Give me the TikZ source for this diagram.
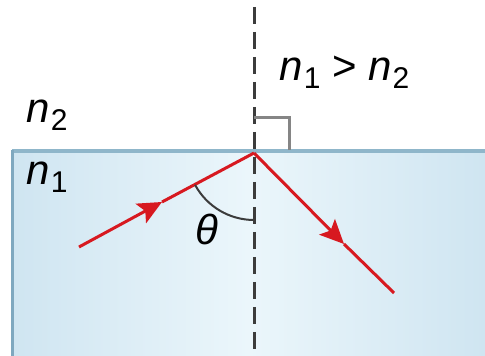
\documentclass[tikz,border=0pt]{standalone}
\usepackage{fontspec}
\setmainfont{Liberation Sans}
\usepackage{tikz}
\usetikzlibrary{arrows.meta,calc}

\definecolor{rayred}{HTML}{D71920}
\definecolor{edgeblue}{HTML}{8FB6CA}
\definecolor{sideblue}{HTML}{7FA8BF}
\definecolor{glassdark}{HTML}{CFE5F1}
\definecolor{glasslight}{HTML}{EBF6FB}
\definecolor{normalgray}{HTML}{3C3C3C}
\definecolor{markgray}{HTML}{858585}

\newcommand{\nsub}[1]{\textit{n}\kern0.5pt\raisebox{-4pt}{\fontsize{15}{15}\selectfont #1}}

\begin{document}
\begin{tikzpicture}[x=0.5pt,y=0.5pt,
  ray/.style={rayred,line width=1.5pt},
  tip/.style={-{Stealth[length=12pt,width=11pt,inset=2.5pt]}},
  label/.style={inner sep=0pt,anchor=base west,text=black,font=\fontsize{21}{21}\selectfont}]

\useasboundingbox (0,0) rectangle (485,356);

% Glass block (medium n1)
\shade[left color=glassdark,right color=glassdark,middle color=glasslight] (12,0) rectangle (485,205);
\draw[edgeblue,line width=1.6pt] (12,205) -- (485,205);
\draw[sideblue,line width=1.5pt] (12,0) -- (12,206);

% Normal to the surface
\coordinate (top) at (254,349);
\coordinate (bottom) at (254,0);
\coordinate (O) at (254,203);
\draw[normalgray,line width=1.5pt,dash pattern=on 8.5pt off 4pt] (top) -- (bottom);

% Right angle mark
\draw[markgray,line width=1.5pt] (254,238) -- (289,238) -- (289,206);

% Incident ray
\coordinate (A) at (79,109);
\coordinate (Atip) at (162,154);
\draw[ray,tip] (A) -- (Atip);
\draw[ray] (Atip) -- (O);

% Reflected ray
\coordinate (Btip) at (344,112);
\coordinate (B) at (394,63);
\draw[ray,tip] (O) -- (Btip);
\draw[ray] (Btip) -- (B);

% Angle theta
\draw[normalgray,line width=1pt] ($(O)+(208.4:67)$) arc[start angle=208.4,end angle=270,radius=67];
\node[label] (theta) at (195,111) {\textit{θ}};

% Labels
\node[label] (ntwo) at (26,233) {\nsub{2}};
\node[label] (none) at (26,171) {\nsub{1}};
\node[label] (ratio) at (279,275) {\nsub{1} > \nsub{2}};

\end{tikzpicture}
\end{document}
